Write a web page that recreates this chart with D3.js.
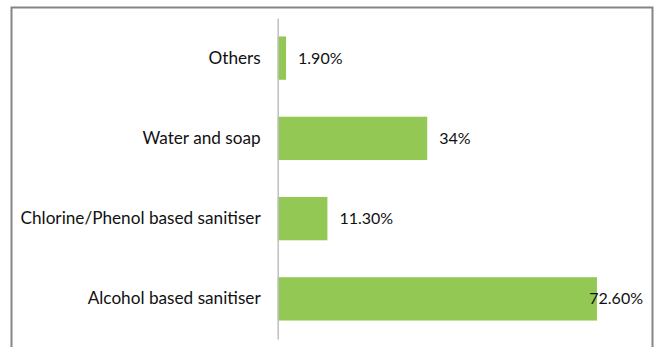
<!DOCTYPE html>
<html>
<head>
<meta charset="utf-8">
<script src="https://cdn.jsdelivr.net/npm/d3@7"></script>
<style>
  body { margin: 0; background: #fff; }
  text { font-family: Lato, "Open Sans", sans-serif; fill: #111; }
</style>
</head>
<body>
<div id="chart"></div>
<script>
// data, top to bottom as shown
const categories = ["Others", "Water and soap", "Chlorine/Phenol based sanitiser", "Alcohol based sanitiser"];
const values = [1.9, 34, 11.3, 72.6];
const valueLabels = ["1.90%", "34%", "11.30%", "72.60%"];

const width = 654, height = 347;
const margin = ({ top: 18, right: 24, bottom: 8, left: 277.7 });

const svg = d3.select("#chart")
    .append("svg")
    .attr("width", width)
    .attr("height", height);

// outer frame (cut at the bottom in the original)
svg.append("path")
    .attr("d", `M11.5,${height} V7.5 H652.5 V${height}`)
    .attr("fill", "none")
    .attr("stroke", "#858585")
    .attr("stroke-width", 2);

const data = categories.map((c, i) => ({ cat: c, value: values[i], label: valueLabels[i] }));

let x = d3.scaleLinear()
    .domain([0, 80])
    .range([margin.left, width - margin.right - 0.5]);

let y = d3.scaleBand()
    .domain(categories)
    .range([margin.top, height - margin.bottom])
    .paddingInner(0.46)
    .paddingOuter(0.23);

svg.selectAll("rect.bar")
    .data(data)
    .join("rect")
    .attr("class", "bar")
    .attr("x", x(0))
    .attr("y", d => y(d.cat))
    .attr("width", d => x(d.value) - x(0))
    .attr("height", y.bandwidth())
    .attr("fill", "#92c853");

// category axis, no ticks
const yAxis = svg.append("g")
    .attr("transform", `translate(${x(0)},0)`)
    .call(d3.axisLeft(y).tickSize(0).tickPadding(17));
yAxis.select(".domain").attr("stroke", "#bfbfbf").attr("stroke-width", 1.5);
yAxis.selectAll("text")
    .style("font-size", "17.2px")
    .attr("fill", "#111");

// value labels, kept inside the plot area
const maxRight = 643;
svg.selectAll("text.val")
    .data(data)
    .join("text")
    .attr("class", "val")
    .attr("y", d => y(d.cat) + y.bandwidth() / 2)
    .attr("dy", "0.35em")
    .style("font-size", "16px")
    .text(d => d.label)
    .attr("x", function(d) {
        const w = this.getComputedTextLength();
        return Math.min(x(d.value) + 12, maxRight - w);
    });
</script>
</body>
</html>
